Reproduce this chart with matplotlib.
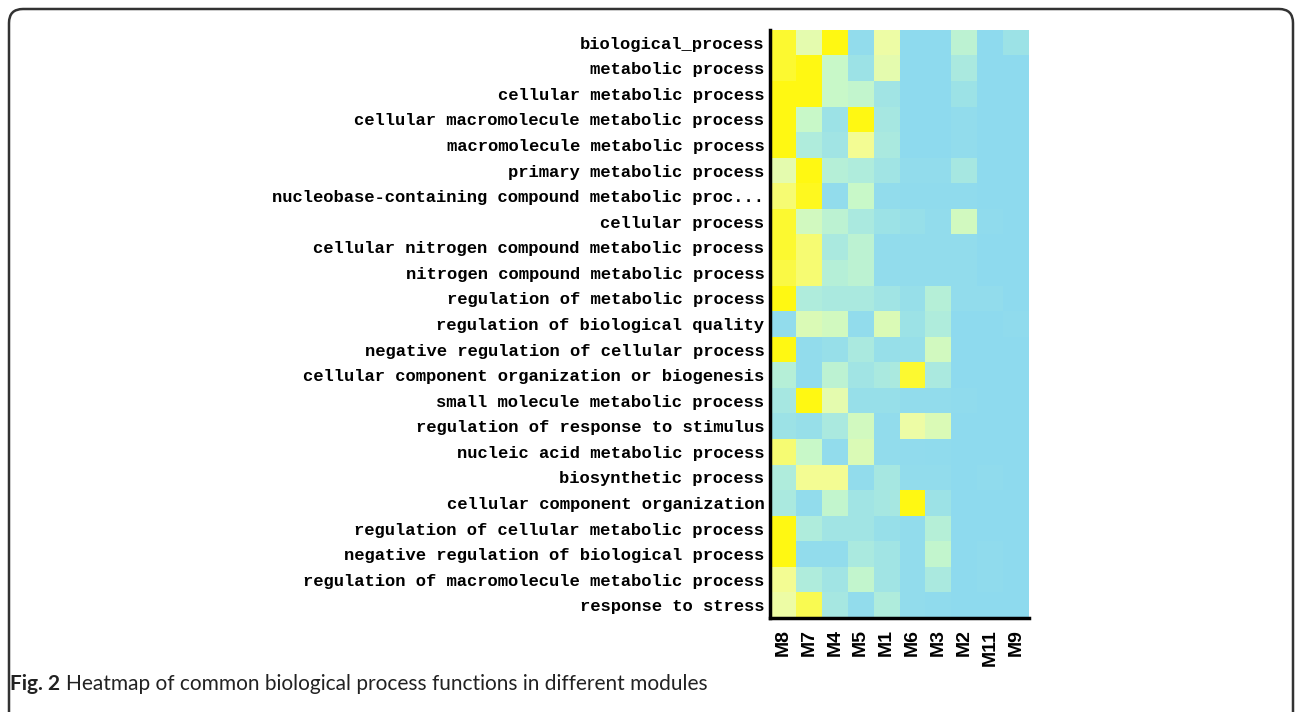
import matplotlib.pyplot as plt
import numpy as np
from matplotlib.colors import LinearSegmentedColormap
from matplotlib.patches import FancyBboxPatch
from matplotlib.transforms import IdentityTransform

processes = [
    "biological_process",
    "metabolic process",
    "cellular metabolic process",
    "cellular macromolecule metabolic process",
    "macromolecule metabolic process",
    "primary metabolic process",
    "nucleobase-containing compound metabolic proc...",
    "cellular process",
    "cellular nitrogen compound metabolic process",
    "nitrogen compound metabolic process",
    "regulation of metabolic process",
    "regulation of biological quality",
    "negative regulation of cellular process",
    "cellular component organization or biogenesis",
    "small molecule metabolic process",
    "regulation of response to stimulus",
    "nucleic acid metabolic process",
    "biosynthetic process",
    "cellular component organization",
    "regulation of cellular metabolic process",
    "negative regulation of biological process",
    "regulation of macromolecule metabolic process",
    "response to stress",
]

modules = ["M8", "M7", "M4", "M5", "M1", "M6", "M3", "M2", "M11", "M9"]

# relative enrichment (0 = blue, 1 = yellow)
scores = np.array([
    [0.95, 0.70, 1.00, 0.05, 0.75, 0.00, 0.00, 0.45, 0.00, 0.15],
    [0.95, 1.00, 0.55, 0.15, 0.70, 0.00, 0.00, 0.30, 0.00, 0.00],
    [1.00, 1.00, 0.55, 0.50, 0.20, 0.00, 0.00, 0.15, 0.00, 0.00],
    [1.00, 0.55, 0.15, 1.00, 0.25, 0.00, 0.00, 0.05, 0.00, 0.00],
    [1.00, 0.35, 0.20, 0.80, 0.30, 0.00, 0.00, 0.05, 0.00, 0.00],
    [0.70, 1.00, 0.40, 0.35, 0.20, 0.05, 0.05, 0.25, 0.00, 0.00],
    [0.85, 0.98, 0.05, 0.55, 0.05, 0.02, 0.02, 0.02, 0.00, 0.00],
    [0.95, 0.60, 0.45, 0.30, 0.15, 0.10, 0.05, 0.60, 0.02, 0.00],
    [0.95, 0.85, 0.30, 0.45, 0.05, 0.05, 0.05, 0.05, 0.00, 0.00],
    [0.92, 0.85, 0.40, 0.45, 0.05, 0.05, 0.05, 0.05, 0.00, 0.00],
    [1.00, 0.35, 0.30, 0.30, 0.20, 0.10, 0.40, 0.05, 0.05, 0.00],
    [0.05, 0.65, 0.60, 0.05, 0.65, 0.15, 0.35, 0.00, 0.00, 0.02],
    [1.00, 0.05, 0.10, 0.30, 0.10, 0.10, 0.60, 0.00, 0.00, 0.00],
    [0.40, 0.05, 0.45, 0.20, 0.30, 0.95, 0.30, 0.00, 0.00, 0.00],
    [0.25, 1.00, 0.70, 0.10, 0.10, 0.05, 0.05, 0.02, 0.00, 0.00],
    [0.15, 0.10, 0.30, 0.60, 0.05, 0.75, 0.65, 0.00, 0.00, 0.00],
    [0.85, 0.55, 0.05, 0.65, 0.05, 0.03, 0.02, 0.00, 0.00, 0.00],
    [0.35, 0.80, 0.80, 0.05, 0.25, 0.05, 0.05, 0.00, 0.02, 0.00],
    [0.30, 0.05, 0.50, 0.20, 0.25, 1.00, 0.15, 0.00, 0.00, 0.00],
    [1.00, 0.35, 0.20, 0.20, 0.10, 0.05, 0.40, 0.00, 0.00, 0.00],
    [1.00, 0.05, 0.05, 0.30, 0.20, 0.05, 0.50, 0.00, 0.02, 0.00],
    [0.80, 0.35, 0.20, 0.50, 0.20, 0.05, 0.30, 0.00, 0.02, 0.00],
    [0.75, 0.90, 0.25, 0.05, 0.35, 0.05, 0.02, 0.00, 0.00, 0.00],
])

cmap = LinearSegmentedColormap.from_list("blue_yellow", [
    (0.00, "#8edaee"),
    (0.35, "#afecdc"),
    (0.55, "#c8f8c8"),
    (0.78, "#f2fca0"),
    (1.00, "#fff812"),
])

fig = plt.figure(figsize=(12.95, 7.12), dpi=100)
ax = fig.add_axes([0.5946, 0.132, 0.2, 0.826])

ax.pcolormesh(np.arange(len(modules) + 1), np.arange(len(processes) + 1),
              scores, cmap=cmap, vmin=0, vmax=1)
ax.set_xlim(0, len(modules))
ax.set_ylim(len(processes), 0)

ax.set_xticks(np.arange(len(modules)) + 0.5)
ax.set_xticklabels(modules, rotation=90, fontsize=14, fontweight="bold",
                   family="Liberation Sans")
ax.set_yticks(np.arange(len(processes)) + 0.5)
ax.set_yticklabels(processes, fontsize=12.3, fontweight="bold",
                   family="Liberation Mono")
ax.tick_params(length=0, pad=4)
ax.tick_params(axis="x", pad=8)

for side in ["top", "right"]:
    ax.spines[side].set_visible(False)
for side in ["left", "bottom"]:
    ax.spines[side].set_linewidth(2.5)
    ax.spines[side].set_color("black")

# rounded frame around the figure panel (pixel coordinates)
frame = FancyBboxPatch((9, -40), 1284, 743,
                       boxstyle="round,pad=0,rounding_size=14",
                       transform=IdentityTransform(), fill=False,
                       edgecolor="#333333", linewidth=1.8, clip_on=False)
fig.patches.append(frame)

fig.text(10 / 1295, 1 - 690 / 712, "Fig. 2", fontsize=15, fontweight="bold",
         family="Lato", va="baseline", color="#222222")
fig.text(66 / 1295, 1 - 690 / 712,
         "Heatmap of common biological process functions in different modules",
         fontsize=15, family="Lato", va="baseline", color="#222222")

fig.savefig("out.png", dpi=100)
